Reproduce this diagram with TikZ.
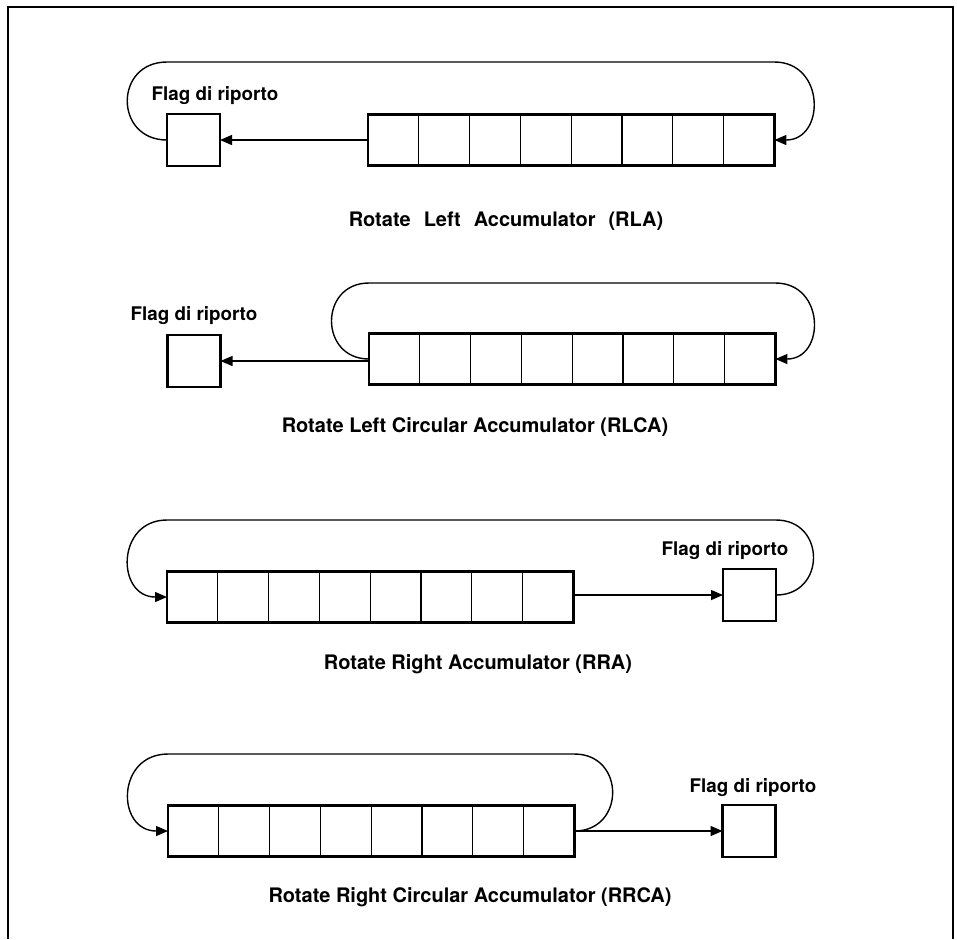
\documentclass[tikz,border=0pt]{standalone}
\usepackage{fontspec}
\setmainfont{TeX Gyre Heros}
\usetikzlibrary{arrows.meta}

\begin{document}
\begin{tikzpicture}[x=0.5pt, y=-0.5pt,
  cell/.style={draw, line width=0.6pt, minimum width=25.4pt, minimum height=25.5pt, inner sep=0pt, outer sep=0pt},
  reg/.style={line width=1.2pt},
  flagbox/.style={draw, line width=1.2pt, minimum width=26.5pt, minimum height=26pt, inner sep=0pt, outer sep=0pt},
  flaglbl/.style={anchor=base, inner sep=0pt, font=\fontsize{9.4}{11}\selectfont\bfseries},
  caption/.style={anchor=base, inner sep=0pt, font=\fontsize{10}{12}\selectfont\bfseries},
  wire/.style={line width=0.7pt},
  >={Triangle[length=6pt,width=5pt]}]
\useasboundingbox (0,0) rectangle (957,939);
% frame, open at the bottom
\draw[line width=0.6pt] (8,939) -- (8,7) -- (953,7) -- (953,939);

% Rotate Left Accumulator
\foreach \i in {1,...,8}
  \node[cell] (rla-\i) at ({368+25.4+(\i-1)*50.8},140) {};
\draw[reg] (rla-1.north west) rectangle (rla-8.south east);
\node[flagbox] (flrla) at (193.5,140) {};
\node[flaglbl] (lblrla) at (215,100) {Flag di riporto};
\node[caption] (caprla) at (506,226) {\spaceskip=6.5pt\relax Rotate Left Accumulator (RLA)};
\coordinate (toprla) at (0,62);
\draw[wire,->] (rla-1.west) -- (flrla.east);
\draw[wire,->] (flrla.west) .. controls +(-53,0) and +(-53,0) .. (flrla.west |- toprla)
  -- (rla-8.east |- toprla) .. controls +(51,0) and +(51,0) .. (rla-8.east);

% Rotate Left Circular Accumulator
\foreach \i in {1,...,8}
  \node[cell] (rlca-\i) at ({369+25.4+(\i-1)*50.8},359) {};
\draw[reg] (rlca-1.north west) rectangle (rlca-8.south east);
\node[flagbox] (flrlca) at (194,361) {};
\node[flaglbl] (lblrlca) at (194,320) {Flag di riporto};
\node[caption] (caprlca) at (475,432) {Rotate Left Circular Accumulator (RLCA)};
\coordinate (toprlca) at (0,283);
\draw[wire,->] (rlca-1.west |- flrlca) -- (flrlca.east);
\draw[wire,->] (rlca-1.west) .. controls +(-50,0) and +(-50,0) .. (rlca-1.west |- toprlca)
  -- (rlca-8.east |- toprlca) .. controls +(50,0) and +(50,0) .. (rlca-8.east);

% Rotate Right Accumulator
\foreach \i in {1,...,8}
  \node[cell] (rra-\i) at ({167+25.4+(\i-1)*50.8},597) {};
\draw[reg] (rra-1.north west) rectangle (rra-8.south east);
\node[flagbox] (flrra) at (749.5,595) {};
\node[flaglbl] (lblrra) at (725,555) {Flag di riporto};
\node[caption] (caprra) at (478,669) {Rotate Right Accumulator (RRA)};
\coordinate (toprra) at (0,520);
\draw[wire,->] (rra-8.east |- flrra) -- (flrra.west);
\draw[wire,->] (flrra.east) .. controls +(50,0) and +(50,0) .. (flrra.east |- toprra)
  -- (rra-1.west |- toprra) .. controls +(-51,0) and +(-51,0) .. (rra-1.west);

% Rotate Right Circular Accumulator
\foreach \i in {1,...,8}
  \node[cell] (rrca-\i) at ({168+25.4+(\i-1)*50.8},831) {};
\draw[reg] (rrca-1.north west) rectangle (rrca-8.south east);
\node[flagbox] (flrrca) at (749,831) {};
\node[flaglbl] (lblrrca) at (753,792) {Flag di riporto};
\node[caption] (caprrca) at (470,902) {Rotate Right Circular Accumulator (RRCA)};
\coordinate (toprrca) at (0,754);
\draw[wire,->] (rrca-8.east) -- (flrrca.west);
\draw[wire,->] (rrca-8.east) .. controls +(51,0) and +(51,0) .. (rrca-8.east |- toprrca)
  -- (rrca-1.west |- toprrca) .. controls +(-52,0) and +(-52,0) .. (rrca-1.west);
\end{tikzpicture}
\end{document}
